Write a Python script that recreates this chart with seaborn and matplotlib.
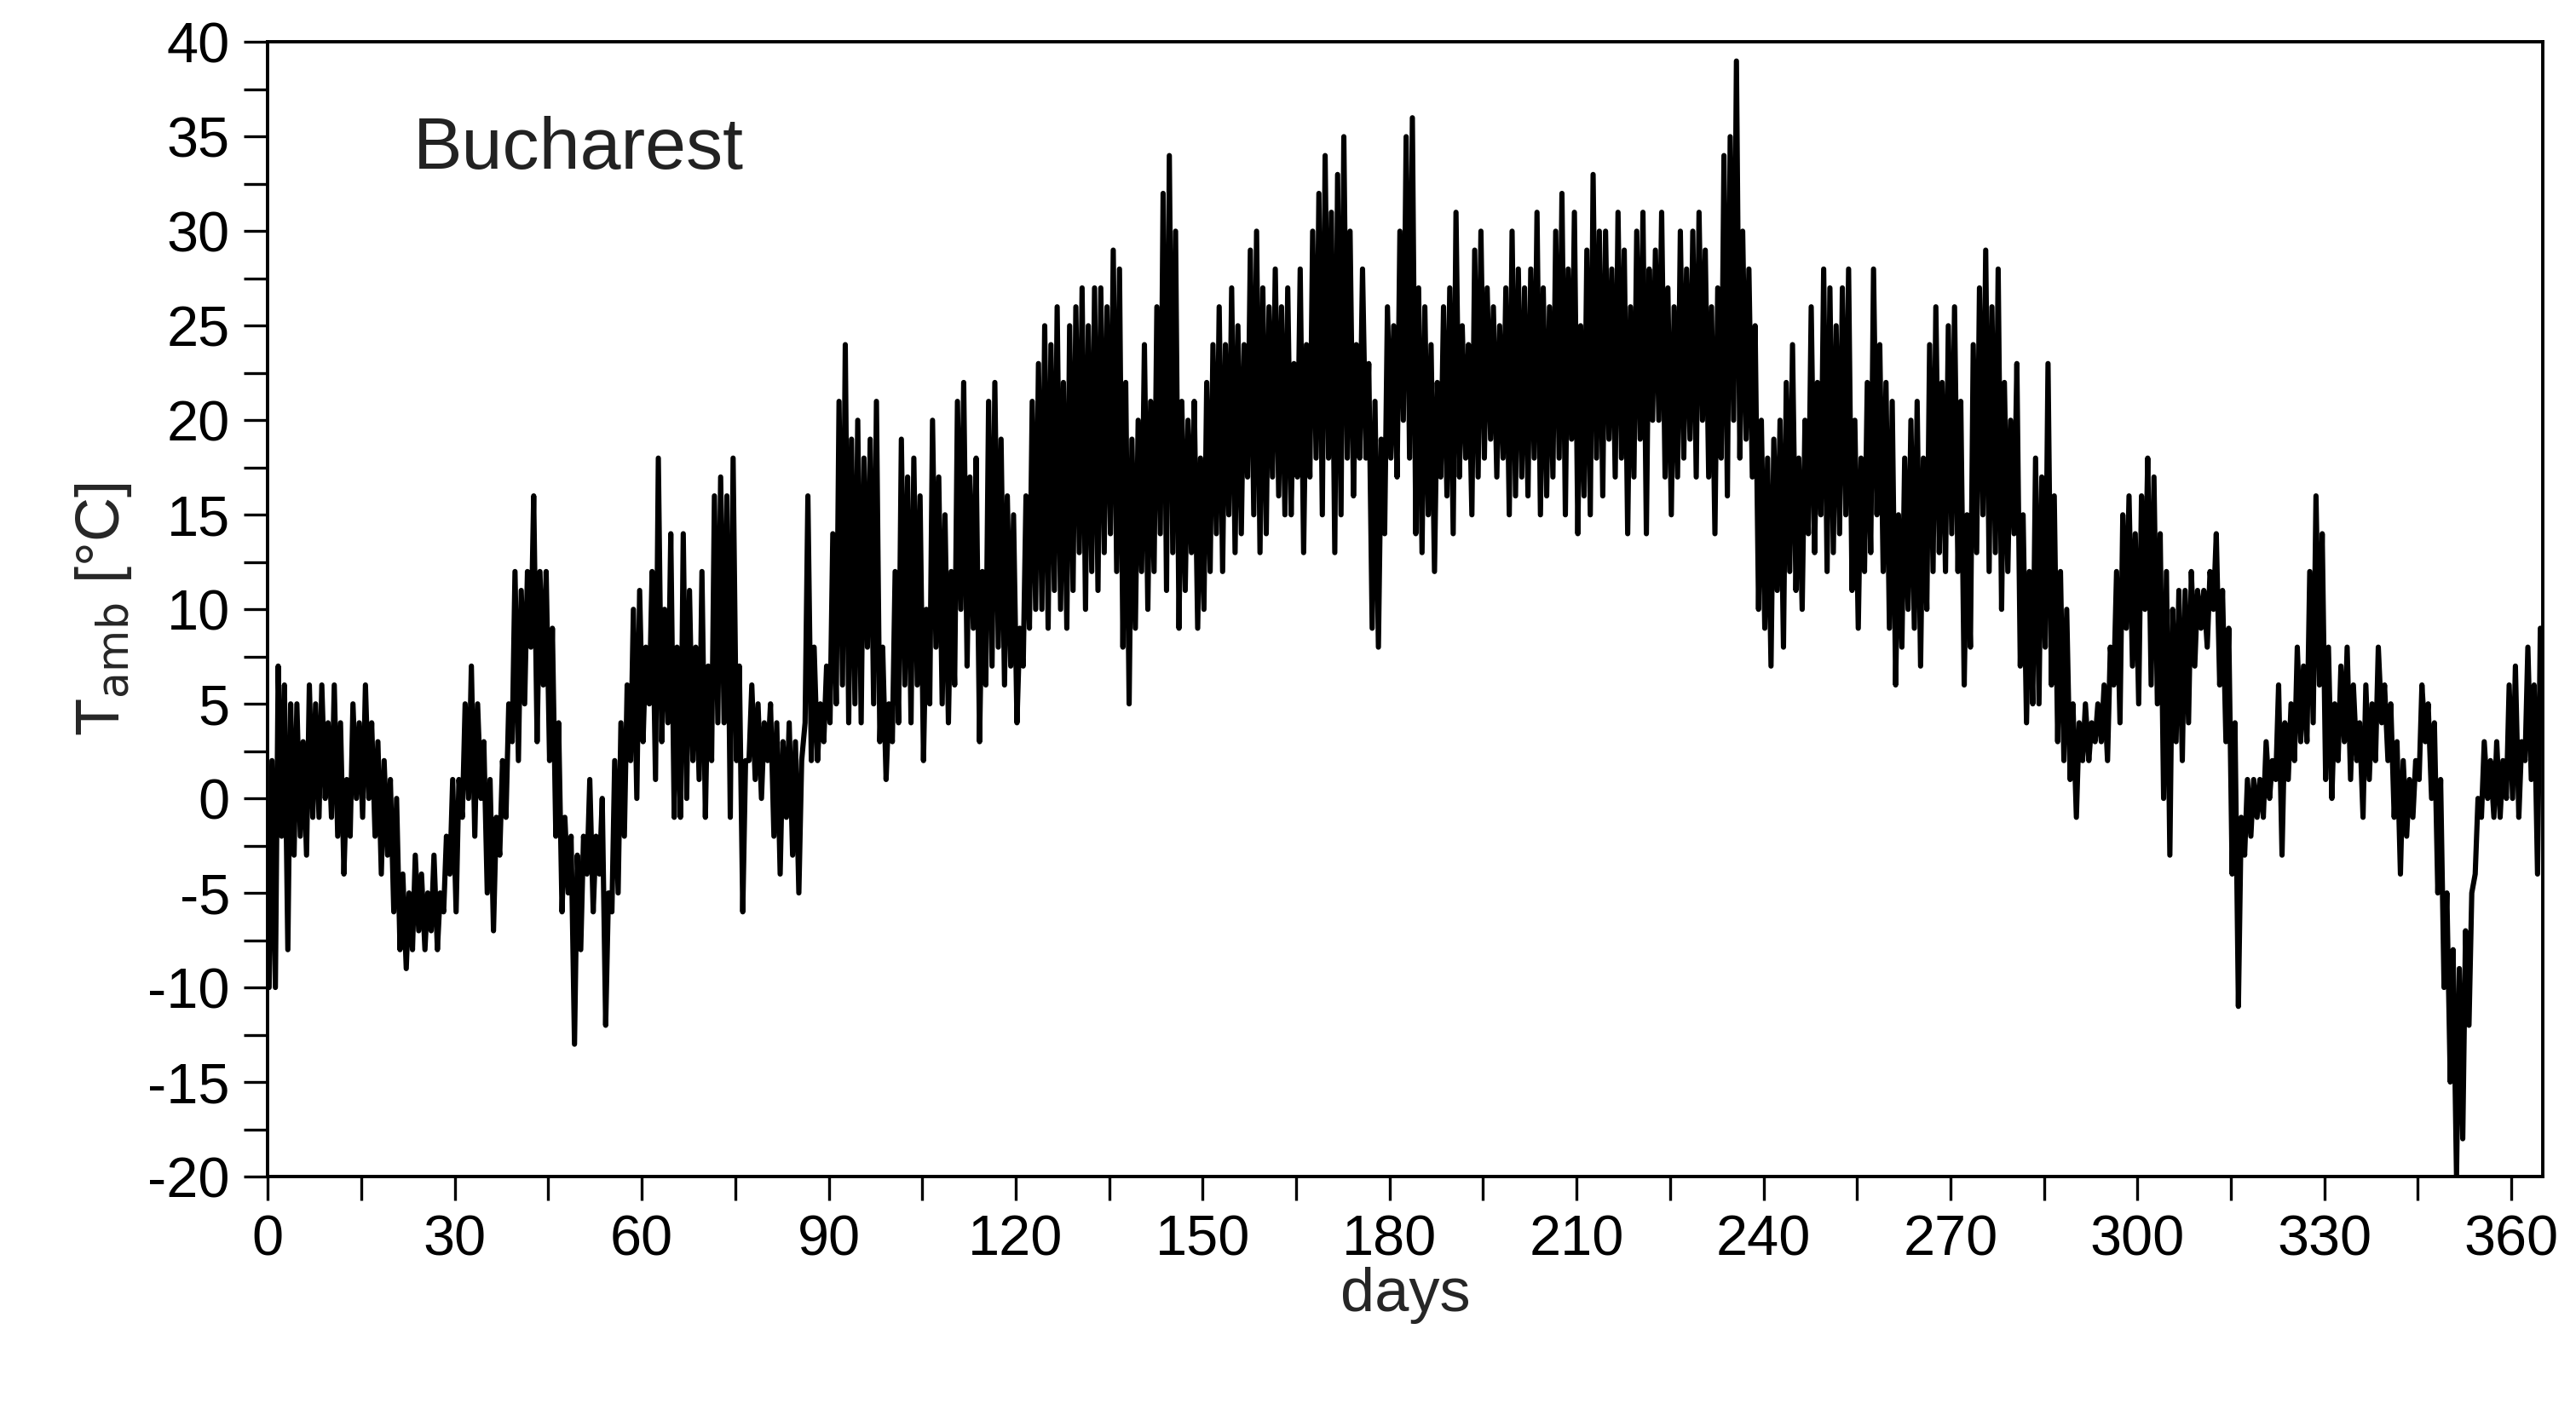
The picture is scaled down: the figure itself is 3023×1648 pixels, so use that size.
import matplotlib
matplotlib.use("Agg")
import matplotlib.pyplot as plt
import seaborn as sns
import pandas as pd
import numpy as np
from matplotlib.ticker import MultipleLocator

tmin = [-10,-10,-2,-8,-3,-2,-3,-1,-1,0,-1,
 -2,-4,-2,0,-1,0,-2,-4,-3,-6,
 -8,-9,-8,-7,-8,-7,-8,-6,-4,-6,
 -1,0,-2,0,-5,-7,-3,-1,3,2,
 5,8,3,6,2,-2,-6,-5,-13,-8,
 -4,-6,-4,-12,-6,-5,-2,2,0,3,
 5,1,3,4,-1,-1,0,2,1,-1,
 2,4,4,-1,2,-6,2,1,0,2,
 -2,-4,-1,-3,-5,4,2,2,3,4,
 5,6,4,5,4,8,5,3,1,3,
 4,6,4,6,2,5,8,5,4,6,
 10,7,9,3,6,7,8,6,7,4,
 7,9,10,10,9,11,10,9,11,13,
 10,12,11,13,14,12,8,5,9,12,
 10,12,14,11,13,9,11,13,9,10,
 12,14,12,15,13,14,17,15,13,14,
 17,16,15,15,17,13,17,18,15,18,
 13,15,18,16,18,18,9,8,14,18,
 17,20,18,14,13,15,12,17,16,14,
 17,18,15,17,18,19,17,18,15,16,
 17,16,18,15,16,17,18,15,19,14,
 16,15,18,16,19,17,18,14,17,19,
 14,20,20,17,15,17,18,19,17,20,
 17,14,18,16,20,18,19,17,10,9,
 7,11,8,12,11,10,14,13,15,12,
 13,14,15,11,9,12,13,15,12,9,
 6,8,10,9,7,10,12,13,12,14,
 12,6,8,13,15,12,13,10,12,14,
 7,4,5,5,8,6,3,2,1,-1,
 2,2,3,3,2,6,4,9,7,5,
 10,6,5,0,-3,3,2,4,7,9,
 8,10,6,3,-4,-11,-3,-2,-1,-1,
 0,1,-3,1,2,3,3,4,6,1,
 0,2,3,1,2,-1,1,2,4,2,
 -1,-4,-2,-1,1,3,0,-5,-10,-15,
 -20,-18,-12,-4,-1,0,-1,-1,0,0,-1,2,1,-4]
tmax = [2,7,6,5,5,3,6,5,6,4,6,
 4,1,5,4,6,4,3,2,1,0,
 -4,-5,-3,-4,-5,-3,-5,-2,1,1,
 5,7,5,3,1,-1,2,5,12,11,
 12,16,12,12,9,4,-1,-2,-3,-2,
 1,-2,0,-5,2,4,6,10,11,8,
 12,18,10,14,8,14,11,8,12,7,
 16,17,16,18,7,2,6,5,4,5,
 4,3,4,3,2,16,8,5,7,14,
 21,24,19,20,18,19,21,8,5,12,
 19,17,18,16,10,20,17,15,12,21,
 22,17,18,12,21,22,19,16,15,9,
 16,21,23,25,24,26,22,25,26,27,
 25,27,27,26,29,28,22,19,20,24,
 21,26,32,34,30,21,20,21,18,22,
 24,26,24,27,25,24,29,30,27,26,
 28,26,27,23,28,24,30,32,34,31,
 33,35,30,24,28,23,21,19,26,25,
 30,35,36,27,26,24,22,26,27,31,
 25,24,29,30,27,26,25,27,30,28,
 27,28,31,27,26,30,32,28,31,25,
 29,33,30,30,28,31,29,26,30,31,
 28,29,31,27,26,30,28,30,31,29,
 26,27,34,35,39,30,28,25,20,18,
 19,20,22,24,18,20,26,22,28,27,
 25,27,28,20,18,22,28,24,22,21,
 15,18,20,21,18,24,26,22,25,26,
 21,15,24,27,29,26,28,22,20,23,
 15,12,18,17,23,16,12,10,5,4,
 5,4,5,6,8,12,15,16,14,16,
 18,17,14,12,10,11,11,12,11,11,
 12,14,11,9,4,-1,1,1,1,3,
 2,6,4,5,8,7,12,16,14,8,
 5,7,8,6,4,6,5,8,6,5,
 3,2,1,2,6,5,4,1,-5,-8,
 -9,-7,-5,0,3,2,3,2,6,7,3,8,6,9]

days = np.arange(len(tmin))
x = np.ravel(np.column_stack([days + 0.2, days + 0.65]))
y = np.ravel(np.column_stack([tmin, tmax]))
df = pd.DataFrame({"days": x, "T": y})

sns.set_theme(style="ticks")
plt.rcParams['font.family'] = ['Liberation Sans', 'DejaVu Sans']
plt.rcParams['axes.unicode_minus'] = False

fig = plt.figure(figsize=(15.115, 8.24), dpi=200)
ax = fig.add_axes([0.104, 0.162, 0.883, 0.808])
sns.lineplot(data=df, x="days", y="T", sort=False, color="black", lw=2.2, ax=ax, estimator=None)

ax.set_xlim(0, 365)
ax.set_ylim(-20, 40)
ax.xaxis.set_major_locator(MultipleLocator(30))
ax.xaxis.set_minor_locator(MultipleLocator(15))
ax.yaxis.set_major_locator(MultipleLocator(5))
ax.yaxis.set_minor_locator(MultipleLocator(2.5))
ax.tick_params(which="both", direction="out", width=1.2, labelsize=24, colors="black", pad=6)
ax.tick_params(which="major", length=10)
ax.tick_params(which="minor", length=10)
for s in ax.spines.values():
    s.set_linewidth(1.4)
    s.set_color("black")
ax.set_xlabel("days", fontsize=26, labelpad=0)
ax.set_ylabel(r"T$_{\mathrm{amb}}$ [°C]", fontsize=26, labelpad=6)
ax.text(0.064, 0.935, "Bucharest", transform=ax.transAxes, fontsize=31, va="top", color="#222222")
fig.savefig("out.png", dpi=200)
